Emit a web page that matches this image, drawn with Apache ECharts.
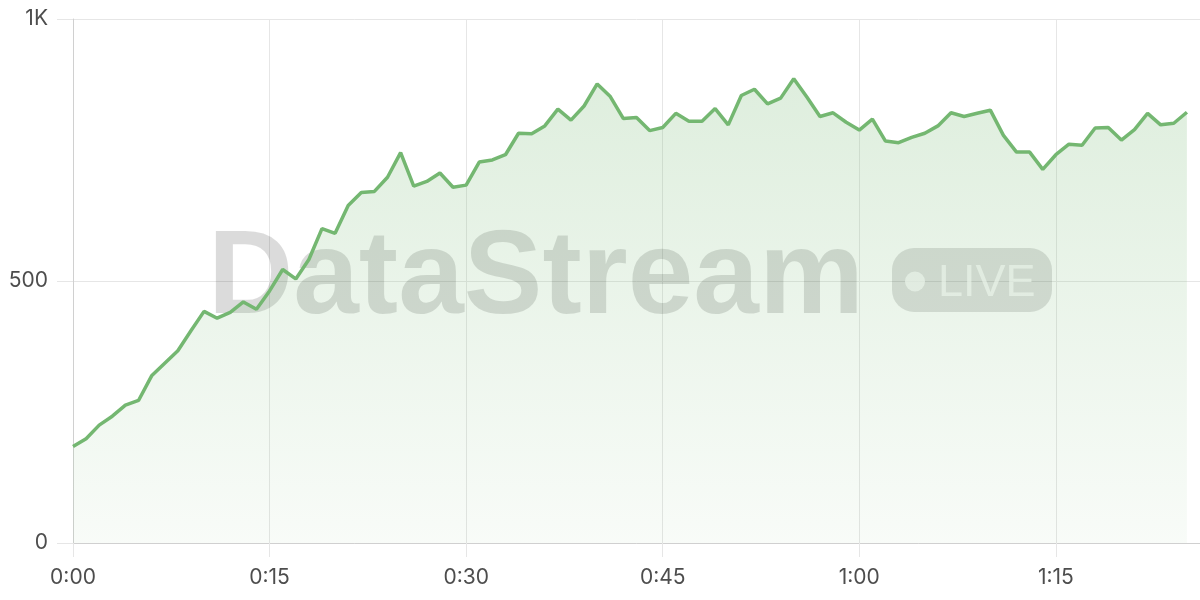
<!DOCTYPE html>
<html>
<head>
<meta charset="utf-8">
<script src="https://cdn.jsdelivr.net/npm/echarts@6/dist/echarts.min.js"></script>
<style>
html,body{margin:0;padding:0;background:#fff;}
#chart{width:1200px;height:600px;}
</style>
</head>
<body>
<div id="chart"></div>
<script>
// minutes elapsed (one point per minute)
const minutes = [0,1,2,3,4,5,6,7,8,9,10,11,12,13,14,15,16,17,18,19,20,21,22,23,24,25,26,27,28,29,
  30,31,32,33,34,35,36,37,38,39,40,41,42,43,44,45,46,47,48,49,50,51,52,53,54,55,56,57,58,59,
  60,61,62,63,64,65,66,67,68,69,70,71,72,73,74,75,76,77,78,79,80,81,82,83,84,85];
const values = [184,199,225,242,263,272,319,343,367,405,442,429,440,460,446,481,522,504,541,600,
  591,644,669,671,698,745,681,690,706,679,683,727,731,741,782,781,796,828,807,834,
  876,852,810,812,787,793,820,805,805,829,798,854,866,838,849,886,851,814,821,803,
  788,809,767,764,774,782,796,821,814,820,826,778,746,746,713,741,761,759,792,793,
  769,789,820,798,801,822];
const xTicks = [0,15,30,45,60,75];
const yTicks = [0,500,1000];
const watermark = 'DataStream';
const badgeText = 'LIVE';

const chart = echarts.init(document.getElementById('chart'), null, {renderer:'canvas'});
const seriesData = minutes.map((m,i)=>[m, values[i]]);
const labelFont = 'Inter, "Liberation Sans", Arial, sans-serif';

chart.setOption({
  animation:false,
  backgroundColor:'#ffffff',
  grid:{left:73,right:0,top:19,bottom:57,containLabel:false},
  xAxis:{
    type:'value', min:0, max:86, interval:15,
    axisLine:{show:true,lineStyle:{color:'#d0d0d0',width:1}},
    axisTick:{show:true,length:14,lineStyle:{color:'#e6e6e6'}},
    splitLine:{show:true,lineStyle:{color:'#e6e6e6',width:1}},
    axisLabel:{
      color:'#4d4d4d', fontSize:21, fontFamily:labelFont, margin:24, showMaxLabel:false,
      formatter:function(v){
        if (xTicks.indexOf(v) < 0) return '';
        const h = Math.floor(v/60), m = v%60;
        return h + ':' + (m<10?'0':'') + m;
      }
    }
  },
  yAxis:{
    type:'value', min:0, max:1000, interval:500,
    axisLine:{show:true,lineStyle:{color:'#d0d0d0',width:1}},
    axisTick:{show:true,length:16,lineStyle:{color:'#e6e6e6'}},
    splitLine:{show:true,lineStyle:{color:'#e6e6e6',width:1}},
    axisLabel:{
      color:'#4d4d4d', fontSize:21, fontFamily:labelFont, margin:25,
      formatter:function(v){
        if (yTicks.indexOf(v) < 0) return '';
        return v>=1000 ? (v/1000)+'K' : String(v);
      }
    }
  },
  graphic:[
    {type:'text', z:1, x:208, y:280,
      style:{text:watermark, font:'bold 118px "Liberation Sans", Arial, sans-serif',
        fill:'rgba(0,0,0,0.14)', textAlign:'left', verticalAlign:'middle'}},
    {type:'rect', z:1, x:892, y:248,
      shape:{width:160,height:64,r:22},
      style:{fill:'rgba(0,0,0,0.13)'}},
    {type:'circle', z:1, x:915, y:281.5,
      shape:{cx:0,cy:0,r:10},
      style:{fill:'rgba(255,255,255,0.7)'}},
    {type:'text', z:1, x:938, y:284,
      style:{text:badgeText, font:'45px "Liberation Sans", Arial, sans-serif',
        fill:'rgba(255,255,255,0.7)', textAlign:'left', verticalAlign:'middle'}}
  ],
  series:[{
    type:'line',
    data:seriesData,
    showSymbol:false,
    symbol:'none',
    smooth:false,
    lineStyle:{color:'#74b771',width:3.5},
    itemStyle:{color:'#74b771'},
    areaStyle:{
      color:new echarts.graphic.LinearGradient(0,0,0,1,[
        {offset:0,color:'rgba(118,184,115,0.34)'},
        {offset:1,color:'rgba(118,184,115,0.07)'}
      ])
    },
    z:2
  }]
});
</script>
</body>
</html>
